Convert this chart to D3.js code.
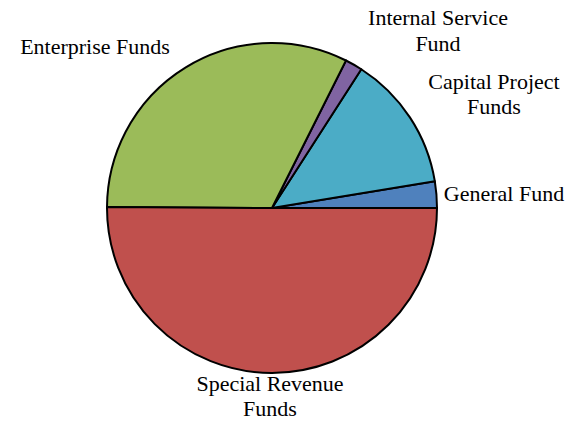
<!DOCTYPE html>
<html>
<head>
<meta charset="utf-8">
<script src="https://cdn.jsdelivr.net/npm/d3@7"></script>
<style>
  html, body { margin: 0; padding: 0; background: #fff; }
  svg { display: block; }
  text { font-family: "Liberation Serif", "Times New Roman", serif; font-size: 22px; fill: #000; }
</style>
</head>
<body>
<svg id="chart" width="568" height="421"></svg>
<script>
// Fund shares (percent of total)
const categories = ["General Fund", "Capital Project Funds", "Internal Service Fund", "Enterprise Funds", "Special Revenue Funds"];
const values = [2.6, 13.3, 1.7, 32.3, 50.1];
const colors = ["#4F81BD", "#4BACC6", "#8064A2", "#9BBB59", "#C0504D"];

// Label text broken into lines
const labelLines = [
  ["General Fund"],
  ["Capital Project", "Funds"],
  ["Internal Service", "Fund"],
  ["Enterprise Funds"],
  ["Special Revenue", "Funds"]
];

const width = 568, height = 421;
const cx = 272, cy = 208, radius = 165;

const svg = d3.select("#chart");
const g = svg.append("g").attr("transform", `translate(${cx},${cy})`);

// Slices run counter-clockwise starting at 3 o'clock
const pie = d3.pie().sort(null).value(d => d.value)
  .startAngle(Math.PI / 2)
  .endAngle(Math.PI / 2 - 2 * Math.PI);

const data = categories.map((c, i) => ({ name: c, value: values[i], color: colors[i], lines: labelLines[i] }));
const arcs = pie(data);
const arc = d3.arc().innerRadius(0).outerRadius(radius);

g.selectAll("path.slice")
  .data(arcs)
  .join("path")
  .attr("class", "slice")
  .attr("d", arc)
  .attr("fill", d => d.data.color)
  .attr("stroke", "#000")
  .attr("stroke-width", 2)
  .attr("stroke-linejoin", "round");

// Label anchors: offsets from the pie centre for the first baseline
const labelAnchor = {
  "General Fund": { dx: 232, dy: -7, anchor: "middle", lh: 25 },
  "Capital Project Funds": { dx: 222, dy: -119, anchor: "middle", lh: 25 },
  "Internal Service Fund": { dx: 166, dy: -183, anchor: "middle", lh: 26 },
  "Enterprise Funds": { dx: -177, dy: -154, anchor: "middle", lh: 25 },
  "Special Revenue Funds": { dx: -2, dy: 183, anchor: "middle", lh: 25 }
};

const labels = g.selectAll("text.label")
  .data(arcs)
  .join("text")
  .attr("class", "label")
  .attr("text-anchor", d => labelAnchor[d.data.name].anchor)
  .attr("transform", d => `translate(${labelAnchor[d.data.name].dx},${labelAnchor[d.data.name].dy})`);

labels.selectAll("tspan")
  .data(d => d.data.lines.map((t, i) => ({ t, i, lh: labelAnchor[d.data.name].lh })))
  .join("tspan")
  .attr("x", 0)
  .attr("y", d => d.i * d.lh)
  .text(d => d.t);
</script>
</body>
</html>
